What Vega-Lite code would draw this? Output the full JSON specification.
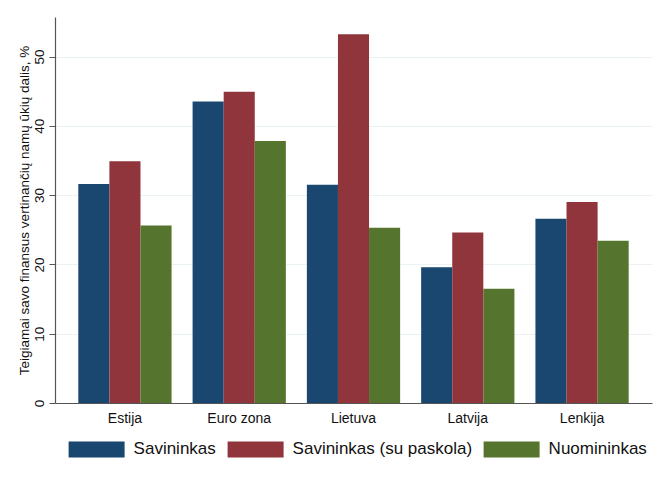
{
  "$schema": "https://vega.github.io/schema/vega-lite/v6.json",
  "width": 597,
  "height": 386,
  "autosize": {"type": "none"},
  "padding": {"left": 55, "top": 17, "right": 18, "bottom": 84},
  "background": "white",
  "config": {
    "view": {"stroke": null},
    "font": "Liberation Sans"
  },
  "data": {
    "values": [
      {"country": "Estija", "group": "Savininkas", "value": 31.6},
      {"country": "Estija", "group": "Savininkas (su paskola)", "value": 34.9},
      {"country": "Estija", "group": "Nuomininkas", "value": 25.6},
      {"country": "Euro zona", "group": "Savininkas", "value": 43.5},
      {"country": "Euro zona", "group": "Savininkas (su paskola)", "value": 44.9},
      {"country": "Euro zona", "group": "Nuomininkas", "value": 37.8},
      {"country": "Lietuva", "group": "Savininkas", "value": 31.5},
      {"country": "Lietuva", "group": "Savininkas (su paskola)", "value": 53.2},
      {"country": "Lietuva", "group": "Nuomininkas", "value": 25.3},
      {"country": "Latvija", "group": "Savininkas", "value": 19.6},
      {"country": "Latvija", "group": "Savininkas (su paskola)", "value": 24.6},
      {"country": "Latvija", "group": "Nuomininkas", "value": 16.5},
      {"country": "Lenkija", "group": "Savininkas", "value": 26.6},
      {"country": "Lenkija", "group": "Savininkas (su paskola)", "value": 29.0},
      {"country": "Lenkija", "group": "Nuomininkas", "value": 23.4}
    ]
  },
  "mark": {"type": "bar"},
  "encoding": {
    "x": {
      "field": "country",
      "type": "nominal",
      "sort": ["Estija", "Euro zona", "Lietuva", "Latvija", "Lenkija"],
      "scale": {"paddingInner": 0.184, "paddingOuter": 0.204},
      "axis": {
        "title": null,
        "labelAngle": 0,
        "labelFontSize": 14,
        "labelColor": "#111111",
        "labelPadding": 8,
        "ticks": false,
        "domainColor": "#555555",
        "domainWidth": 1.2,
        "grid": false
      }
    },
    "xOffset": {
      "field": "group",
      "type": "nominal",
      "sort": ["Savininkas", "Savininkas (su paskola)", "Nuomininkas"],
      "scale": {"paddingInner": 0, "paddingOuter": 0}
    },
    "y": {
      "field": "value",
      "type": "quantitative",
      "scale": {"domain": [0, 55.7], "nice": false, "zero": true},
      "axis": {
        "title": "Teigiamai savo finansus vertinančių namų ūkių dalis, %",
        "titleFontSize": 13.5,
        "titleFontWeight": "normal",
        "titleColor": "#111111",
        "titleAngle": 270,
        "titleAlign": "center",
        "titleBaseline": "alphabetic",
        "titleX": -27,
        "titleY": 193,
        "values": [0, 10, 20, 30, 40, 50],
        "labelAngle": 270,
        "labelAlign": "center",
        "labelBaseline": "bottom",
        "labelFontSize": 13.5,
        "labelColor": "#111111",
        "labelPadding": 3,
        "tickSize": 6,
        "tickColor": "#555555",
        "domainColor": "#555555",
        "domainWidth": 1.2,
        "gridColor": "#eaf2f3",
        "gridWidth": 1.2
      }
    },
    "color": {
      "field": "group",
      "type": "nominal",
      "sort": ["Savininkas", "Savininkas (su paskola)", "Nuomininkas"],
      "scale": {
        "domain": ["Savininkas", "Savininkas (su paskola)", "Nuomininkas"],
        "range": ["#1a476f", "#90353b", "#55752f"]
      },
      "legend": {
        "title": null,
        "orient": "none",
        "direction": "horizontal",
        "columns": 3,
        "legendX": 13.6,
        "legendY": 404,
        "padding": 0,
        "symbolType": "M-1,-0.286L1,-0.286L1,0.286L-1,0.286Z",
        "symbolSize": 3136,
        "symbolStrokeWidth": 0,
        "symbolOpacity": 1,
        "labelFontSize": 17,
        "labelColor": "#111111",
        "labelOffset": 9,
        "columnPadding": 11,
        "labelLimit": 300
      }
    }
  }
}
